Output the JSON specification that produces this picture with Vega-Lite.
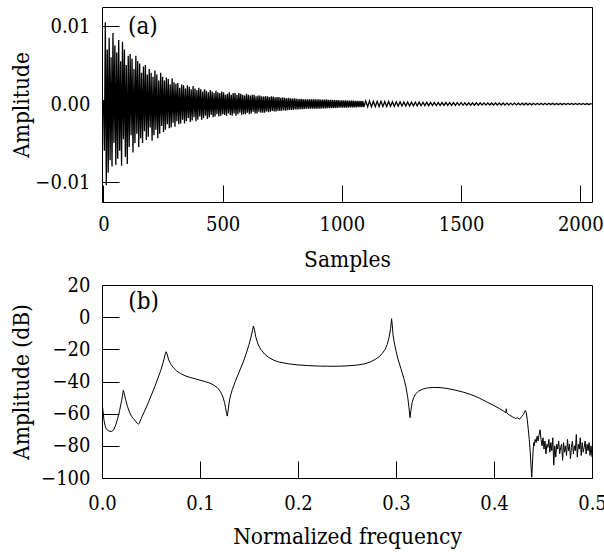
{
  "$schema": "https://vega.github.io/schema/vega-lite/v6.json",
  "padding": {"top": 6, "left": 10, "right": 0, "bottom": 5},
  "spacing": 2,
  "config": {
    "font": "DejaVu Serif Condensed, DejaVu Serif",
    "view": {"stroke": "black", "strokeWidth": 1},
    "axis": {
      "grid": false, "domain": false, "ticks": true, "tickColor": "black", "tickSize": -17, "tickWidth": 1,
      "labelFont": "DejaVu Serif Condensed, DejaVu Serif", "labelFontSize": 20, "labelColor": "black", "labelFlush": false, "labelOverlap": false,
      "titleFont": "DejaVu Serif Condensed, DejaVu Serif", "titleFontSize": 22.5, "titleFontWeight": "normal", "titleColor": "black"
    }
  },
  "datasets": {
    "sig": [
      {"n":0,"a":0.0005},{"n":4,"a":-0.006},{"n":8,"a":0.0105},{"n":12,"a":-0.0104},{"n":16,"a":0.007},{"n":20,"a":-0.0088},
      {"n":24,"a":0.0085},{"n":28,"a":-0.0072},{"n":32,"a":0.006},{"n":36,"a":-0.008},{"n":40,"a":0.0091},{"n":44,"a":-0.005},
      {"n":48,"a":0.0075},{"n":52,"a":-0.0078},{"n":56,"a":0.0066},{"n":60,"a":-0.007},{"n":64,"a":0.0082},{"n":68,"a":-0.006},
      {"n":72,"a":0.0055},{"n":76,"a":-0.0079},{"n":80,"a":0.008},{"n":84,"a":-0.0045},{"n":88,"a":0.007},{"n":92,"a":-0.0068},
      {"n":96,"a":0.005},{"n":100,"a":-0.0077},{"n":104,"a":0.0062},{"n":108,"a":-0.0055},{"n":112,"a":0.0064},{"n":116,"a":-0.004},
      {"n":120,"a":0.0058},{"n":124,"a":-0.0062},{"n":128,"a":0.0045},{"n":132,"a":-0.005},{"n":136,"a":0.0062},{"n":140,"a":-0.0038},
      {"n":144,"a":0.0055},{"n":148,"a":-0.0055},{"n":152,"a":0.0052},{"n":156,"a":-0.0044},{"n":160,"a":0.004},{"n":164,"a":-0.005},
      {"n":168,"a":0.0048},{"n":172,"a":-0.0035},{"n":176,"a":0.005},{"n":180,"a":-0.0046},{"n":184,"a":0.0038},{"n":188,"a":-0.0042},
      {"n":192,"a":0.0045},{"n":196,"a":-0.003},{"n":200,"a":0.004},{"n":204,"a":-0.0047},{"n":208,"a":0.0035},{"n":212,"a":-0.004},
      {"n":216,"a":0.0043},{"n":220,"a":-0.0033},{"n":224,"a":0.0038},{"n":228,"a":-0.0044},{"n":232,"a":0.003},{"n":236,"a":-0.0038},
      {"n":240,"a":0.004},{"n":244,"a":-0.0028},{"n":248,"a":0.0035},{"n":252,"a":-0.0036},{"n":256,"a":0.003},{"n":260,"a":-0.0033},
      {"n":264,"a":0.0034},{"n":268,"a":-0.0026},{"n":272,"a":0.0032},{"n":276,"a":-0.0031},{"n":280,"a":0.0025},{"n":284,"a":-0.003},
      {"n":288,"a":0.0033},{"n":292,"a":-0.0024},{"n":296,"a":0.0028},{"n":300,"a":-0.0029},{"n":304,"a":0.0026},{"n":308,"a":-0.0022},
      {"n":312,"a":0.0027},{"n":316,"a":-0.0026},{"n":320,"a":0.0021},{"n":324,"a":-0.0025},{"n":328,"a":0.0025},{"n":332,"a":-0.002},
      {"n":336,"a":0.0024},{"n":340,"a":-0.0025},{"n":344,"a":0.002},{"n":348,"a":-0.0022},{"n":352,"a":0.0024},{"n":356,"a":-0.0018},
      {"n":360,"a":0.0022},{"n":364,"a":-0.0023},{"n":368,"a":0.0019},{"n":372,"a":-0.0021},{"n":376,"a":0.0023},{"n":380,"a":-0.0017},
      {"n":384,"a":0.002},{"n":388,"a":-0.0022},{"n":392,"a":0.0018},{"n":396,"a":-0.002},{"n":400,"a":0.0021},{"n":404,"a":-0.0016},
      {"n":408,"a":0.0019},{"n":412,"a":-0.002},{"n":416,"a":0.0016},{"n":420,"a":-0.0018},{"n":424,"a":0.0019},{"n":428,"a":-0.0015},
      {"n":432,"a":0.0017},{"n":436,"a":-0.0019},{"n":440,"a":0.0015},{"n":444,"a":-0.0017},{"n":448,"a":0.0018},{"n":452,"a":-0.0014},
      {"n":456,"a":0.0016},{"n":460,"a":-0.0017},{"n":464,"a":0.0014},{"n":468,"a":-0.0016},{"n":472,"a":0.0017},{"n":476,"a":-0.0013},
      {"n":480,"a":0.0015},{"n":484,"a":-0.0016},{"n":488,"a":0.0014},{"n":492,"a":-0.0015},{"n":496,"a":0.0016},{"n":500,"a":-0.0013},
      {"n":504,"a":0.0015},{"n":508,"a":-0.0014},{"n":512,"a":0.0012},{"n":516,"a":-0.0015},{"n":520,"a":0.0013},{"n":524,"a":-0.0012},
      {"n":528,"a":0.0015},{"n":532,"a":-0.0014},{"n":536,"a":0.0012},{"n":540,"a":-0.0015},{"n":544,"a":0.0014},{"n":548,"a":-0.0012},
      {"n":552,"a":0.0014},{"n":556,"a":-0.0015},{"n":560,"a":0.0012},{"n":564,"a":-0.0013},{"n":568,"a":0.0014},{"n":572,"a":-0.0011},
      {"n":576,"a":0.0013},{"n":580,"a":-0.0014},{"n":584,"a":0.0012},{"n":588,"a":-0.0013},{"n":592,"a":0.0011},{"n":596,"a":-0.0013},
      {"n":600,"a":0.0013},{"n":604,"a":-0.0011},{"n":608,"a":0.0012},{"n":612,"a":-0.0013},{"n":616,"a":0.0011},{"n":620,"a":-0.0012},
      {"n":624,"a":0.0012},{"n":628,"a":-0.001},{"n":632,"a":0.0012},{"n":636,"a":-0.0012},{"n":640,"a":0.001},{"n":644,"a":-0.0012},
      {"n":648,"a":0.0011},{"n":652,"a":-0.001},{"n":656,"a":0.0011},{"n":660,"a":-0.0011},{"n":664,"a":0.001},{"n":668,"a":-0.0011},
      {"n":672,"a":0.00095},{"n":676,"a":-0.0011},{"n":680,"a":0.001},{"n":684,"a":-0.00095},{"n":688,"a":0.001},{"n":692,"a":-0.00105},
      {"n":696,"a":0.0009},{"n":700,"a":-0.001},{"n":704,"a":0.001},{"n":708,"a":-0.0009},{"n":712,"a":0.00095},{"n":716,"a":-0.00095},
      {"n":720,"a":0.00085},{"n":724,"a":-0.00095},{"n":728,"a":0.0009},{"n":732,"a":-0.00085},{"n":736,"a":0.0009},{"n":740,"a":-0.0009},
      {"n":744,"a":0.0008},{"n":748,"a":-0.00085},{"n":752,"a":0.00085},{"n":756,"a":-0.0008},{"n":760,"a":0.0008},{"n":764,"a":-0.00085},
      {"n":768,"a":0.00075},{"n":772,"a":-0.0008},{"n":776,"a":0.0008},{"n":780,"a":-0.00075},{"n":784,"a":0.00075},{"n":788,"a":-0.00075},
      {"n":792,"a":0.0007},{"n":796,"a":-0.00075},{"n":800,"a":0.00075},{"n":804,"a":-0.0007},{"n":808,"a":0.0007},{"n":812,"a":-0.0007},
      {"n":816,"a":0.00065},{"n":820,"a":-0.0007},{"n":824,"a":0.00068},{"n":828,"a":-0.00065},{"n":832,"a":0.00065},{"n":836,"a":-0.00065},
      {"n":840,"a":0.00062},{"n":844,"a":-0.00063},{"n":848,"a":0.00062},{"n":852,"a":-0.0006},{"n":856,"a":0.0006},{"n":860,"a":-0.0006},
      {"n":864,"a":0.00061},{"n":868,"a":-0.0006},{"n":872,"a":0.0006},{"n":876,"a":-0.0006},{"n":880,"a":0.0006},{"n":884,"a":-0.0006},
      {"n":888,"a":0.0006},{"n":892,"a":-0.0006},{"n":896,"a":0.0006},{"n":900,"a":-0.0006},{"n":904,"a":0.0006},{"n":908,"a":-0.00059},
      {"n":912,"a":0.00058},{"n":916,"a":-0.00058},{"n":920,"a":0.00057},{"n":924,"a":-0.00056},{"n":928,"a":0.00057},{"n":932,"a":-0.00055},
      {"n":936,"a":0.00056},{"n":940,"a":-0.00054},{"n":944,"a":0.00054},{"n":948,"a":-0.00054},{"n":952,"a":0.00053},{"n":956,"a":-0.00052},
      {"n":960,"a":0.00053},{"n":964,"a":-0.00051},{"n":968,"a":0.00051},{"n":972,"a":-0.00051},{"n":976,"a":0.0005},{"n":980,"a":-0.00049},
      {"n":984,"a":0.0005},{"n":988,"a":-0.00048},{"n":992,"a":0.00048},{"n":996,"a":-0.00048},{"n":1000,"a":0.00047},{"n":1004,"a":-0.00047},
      {"n":1008,"a":0.00046},{"n":1012,"a":-0.00046},{"n":1016,"a":0.00046},{"n":1020,"a":-0.00045},{"n":1024,"a":0.00045},{"n":1028,"a":-0.00044},
      {"n":1032,"a":0.00044},{"n":1036,"a":-0.00044},{"n":1040,"a":0.00043},{"n":1044,"a":-0.00043},{"n":1048,"a":0.00043},{"n":1052,"a":-0.00042},
      {"n":1056,"a":0.00042},{"n":1060,"a":-0.00042},{"n":1064,"a":0.00041},{"n":1068,"a":-0.00041},{"n":1072,"a":0.00041},{"n":1076,"a":-0.0004},
      {"n":1080,"a":0.0004},{"n":1084,"a":-0.0004},{"n":1088,"a":0.00039},{"n":1092,"a":-0.00039},
      {"n":1100,"a":0.0004},{"n":1108,"a":-0.00037},{"n":1116,"a":0.00038},{"n":1124,"a":-0.00035},
      {"n":1132,"a":0.00036},{"n":1140,"a":-0.00035},{"n":1148,"a":0.00034},{"n":1156,"a":-0.00032},{"n":1164,"a":0.00034},{"n":1172,"a":-0.00032},
      {"n":1180,"a":0.00031},{"n":1188,"a":-0.0003},{"n":1196,"a":0.00032},{"n":1204,"a":-0.00029},{"n":1212,"a":0.0003},{"n":1220,"a":-0.00028},
      {"n":1228,"a":0.00029},{"n":1236,"a":-0.00027},{"n":1244,"a":0.00028},{"n":1252,"a":-0.00026},{"n":1260,"a":0.00027},{"n":1268,"a":-0.00025},
      {"n":1276,"a":0.00026},{"n":1284,"a":-0.00025},{"n":1292,"a":0.00024},{"n":1300,"a":-0.00024},{"n":1308,"a":0.00025},{"n":1316,"a":-0.00023},
      {"n":1324,"a":0.00023},{"n":1332,"a":-0.00022},{"n":1340,"a":0.00023},{"n":1348,"a":-0.00021},{"n":1356,"a":0.00022},{"n":1364,"a":-0.00021},
      {"n":1372,"a":0.0002},{"n":1380,"a":-0.0002},{"n":1388,"a":0.00021},{"n":1396,"a":-0.00019},{"n":1404,"a":0.0002},{"n":1412,"a":-0.00019},
      {"n":1420,"a":0.00019},{"n":1428,"a":-0.00018},{"n":1436,"a":0.00019},{"n":1444,"a":-0.00018},{"n":1452,"a":0.00018},{"n":1460,"a":-0.00017},
      {"n":1468,"a":0.00018},{"n":1476,"a":-0.00017},{"n":1484,"a":0.00017},{"n":1492,"a":-0.00016},{"n":1500,"a":0.00017},{"n":1508,"a":-0.00016},
      {"n":1516,"a":0.00016},{"n":1524,"a":-0.00015},{"n":1532,"a":0.00016},{"n":1540,"a":-0.00015},{"n":1548,"a":0.00015},{"n":1556,"a":-0.00015},
      {"n":1564,"a":0.00015},{"n":1572,"a":-0.00014},{"n":1580,"a":0.00015},{"n":1588,"a":-0.00014},{"n":1596,"a":0.00014},{"n":1604,"a":-0.00014},
      {"n":1612,"a":0.00014},{"n":1620,"a":-0.00013},{"n":1628,"a":0.00014},{"n":1636,"a":-0.00013},{"n":1644,"a":0.00013},{"n":1652,"a":-0.00013},
      {"n":1660,"a":0.00013},{"n":1668,"a":-0.00012},{"n":1676,"a":0.00013},{"n":1684,"a":-0.00012},{"n":1692,"a":0.00012},{"n":1700,"a":-0.00012},
      {"n":1708,"a":0.00012},{"n":1716,"a":-0.00011},{"n":1724,"a":0.00012},{"n":1732,"a":-0.00011},{"n":1740,"a":0.00011},{"n":1748,"a":-0.00011},
      {"n":1756,"a":0.00011},{"n":1764,"a":-0.0001},{"n":1772,"a":0.00011},{"n":1780,"a":-0.0001},{"n":1788,"a":0.0001},{"n":1796,"a":-0.0001},
      {"n":1804,"a":0.0001},{"n":1812,"a":-0.00009},{"n":1820,"a":0.0001},{"n":1828,"a":-0.00009},{"n":1836,"a":0.00009},{"n":1844,"a":-0.00009},
      {"n":1852,"a":0.00009},{"n":1860,"a":-0.00009},{"n":1868,"a":0.00009},{"n":1876,"a":-0.00008},{"n":1884,"a":0.00009},{"n":1892,"a":-0.00008},
      {"n":1900,"a":0.00008},{"n":1908,"a":-0.00008},{"n":1916,"a":0.00008},{"n":1924,"a":-0.00008},{"n":1932,"a":0.00008},{"n":1940,"a":-0.00007},
      {"n":1948,"a":0.00008},{"n":1956,"a":-0.00007},{"n":1964,"a":0.00007},{"n":1972,"a":-0.00007},{"n":1980,"a":0.00007},{"n":1988,"a":-0.00007},
      {"n":1996,"a":0.00007},{"n":2004,"a":-0.00006},{"n":2012,"a":0.00007},{"n":2020,"a":-0.00006},{"n":2028,"a":0.00006},{"n":2036,"a":-0.00006},
      {"n":2044,"a":0.00006},{"n":2047,"a":-0.00005}
    ],
    "fr": [
      {"f":0.000,"db":-53},{"f":0.001,"db":-58},{"f":0.002,"db":-64},{"f":0.003,"db":-67},{"f":0.004,"db":-69},{"f":0.006,"db":-70.5},
      {"f":0.008,"db":-71},{"f":0.010,"db":-71},{"f":0.012,"db":-70},{"f":0.014,"db":-67},{"f":0.016,"db":-63},{"f":0.018,"db":-58},
      {"f":0.020,"db":-52},{"f":0.021,"db":-48.5},{"f":0.0218,"db":-45.5},{"f":0.0225,"db":-47},{"f":0.024,"db":-51},{"f":0.026,"db":-55.5},
      {"f":0.028,"db":-59},{"f":0.030,"db":-61.5},{"f":0.032,"db":-63},{"f":0.034,"db":-64.5},{"f":0.036,"db":-66},{"f":0.037,"db":-66.5},
      {"f":0.038,"db":-66},{"f":0.040,"db":-63},{"f":0.043,"db":-59},{"f":0.046,"db":-55},{"f":0.050,"db":-49},{"f":0.054,"db":-43},
      {"f":0.057,"db":-38},{"f":0.060,"db":-33},{"f":0.062,"db":-29},{"f":0.0635,"db":-25.5},{"f":0.0645,"db":-23},{"f":0.0655,"db":-21.5},
      {"f":0.0665,"db":-23},{"f":0.068,"db":-26.5},{"f":0.070,"db":-29},{"f":0.073,"db":-31.5},{"f":0.076,"db":-33.3},{"f":0.080,"db":-35},
      {"f":0.085,"db":-36.5},{"f":0.090,"db":-37.5},{"f":0.095,"db":-38.3},{"f":0.100,"db":-39.2},{"f":0.105,"db":-40},{"f":0.110,"db":-41},
      {"f":0.114,"db":-42.2},{"f":0.118,"db":-44},{"f":0.121,"db":-46.5},{"f":0.123,"db":-49},{"f":0.125,"db":-53},{"f":0.126,"db":-56},
      {"f":0.127,"db":-59.5},{"f":0.1278,"db":-61.5},{"f":0.1285,"db":-59},{"f":0.1295,"db":-54},{"f":0.131,"db":-49},{"f":0.133,"db":-45},
      {"f":0.136,"db":-40},{"f":0.139,"db":-35.5},{"f":0.142,"db":-31},{"f":0.145,"db":-26.5},{"f":0.148,"db":-21},{"f":0.150,"db":-17},
      {"f":0.152,"db":-12.5},{"f":0.1535,"db":-8.5},{"f":0.1545,"db":-5.5},{"f":0.1555,"db":-7.5},{"f":0.157,"db":-12.5},{"f":0.159,"db":-16.5},
      {"f":0.162,"db":-20},{"f":0.166,"db":-23},{"f":0.170,"db":-25},{"f":0.175,"db":-26.7},{"f":0.180,"db":-27.8},{"f":0.190,"db":-29},
      {"f":0.200,"db":-29.7},{"f":0.210,"db":-30.1},{"f":0.220,"db":-30.4},{"f":0.230,"db":-30.5},{"f":0.240,"db":-30.5},{"f":0.250,"db":-30.3},
      {"f":0.260,"db":-29.8},{"f":0.268,"db":-29},{"f":0.274,"db":-27.8},{"f":0.279,"db":-26.2},{"f":0.283,"db":-24.5},{"f":0.286,"db":-22.5},
      {"f":0.289,"db":-20},{"f":0.291,"db":-17},{"f":0.293,"db":-12.5},{"f":0.2945,"db":-7},{"f":0.2955,"db":-1},{"f":0.2962,"db":-5},
      {"f":0.297,"db":-11},{"f":0.298,"db":-15},{"f":0.300,"db":-21},{"f":0.302,"db":-26},{"f":0.305,"db":-32},{"f":0.308,"db":-38},
      {"f":0.310,"db":-43},{"f":0.312,"db":-50},{"f":0.3132,"db":-56},{"f":0.3143,"db":-62.5},{"f":0.3152,"db":-58},{"f":0.3165,"db":-53},
      {"f":0.318,"db":-50},{"f":0.320,"db":-47.8},{"f":0.323,"db":-46},{"f":0.327,"db":-44.8},{"f":0.332,"db":-44},{"f":0.338,"db":-43.7},
      {"f":0.345,"db":-43.8},{"f":0.352,"db":-44.3},{"f":0.360,"db":-45.3},{"f":0.368,"db":-46.5},{"f":0.376,"db":-48},{"f":0.384,"db":-50},
      {"f":0.392,"db":-52.5},{"f":0.400,"db":-55},{"f":0.406,"db":-57},{"f":0.410,"db":-58.5},{"f":0.412,"db":-59.5},{"f":0.4125,"db":-57},
      {"f":0.413,"db":-59.5},{"f":0.416,"db":-61},{"f":0.419,"db":-62},{"f":0.422,"db":-63},{"f":0.424,"db":-62.5},{"f":0.426,"db":-63.5},
      {"f":0.428,"db":-62},{"f":0.430,"db":-60.5},{"f":0.432,"db":-58},{"f":0.433,"db":-59.5},{"f":0.434,"db":-64},{"f":0.435,"db":-70},
      {"f":0.436,"db":-76},{"f":0.437,"db":-84},{"f":0.4377,"db":-92},{"f":0.4385,"db":-99.5},{"f":0.4392,"db":-92},{"f":0.4398,"db":-84},
      {"f":0.4405,"db":-78},{"f":0.441,"db":-80},{"f":0.442,"db":-76},{"f":0.443,"db":-78},{"f":0.444,"db":-74},{"f":0.445,"db":-77},
      {"f":0.446,"db":-73},{"f":0.447,"db":-70},{"f":0.448,"db":-76},{"f":0.449,"db":-80},{"f":0.450,"db":-75},{"f":0.451,"db":-82},
      {"f":0.452,"db":-77},{"f":0.453,"db":-85},{"f":0.454,"db":-79},{"f":0.455,"db":-81},{"f":0.456,"db":-76},{"f":0.457,"db":-84},
      {"f":0.458,"db":-78},{"f":0.459,"db":-83},{"f":0.460,"db":-75},{"f":0.461,"db":-92},{"f":0.462,"db":-80},{"f":0.463,"db":-87},
      {"f":0.464,"db":-79},{"f":0.465,"db":-82},{"f":0.466,"db":-77},{"f":0.467,"db":-85},{"f":0.468,"db":-81},{"f":0.469,"db":-79},
      {"f":0.470,"db":-89},{"f":0.471,"db":-78},{"f":0.472,"db":-84},{"f":0.473,"db":-80},{"f":0.474,"db":-86},{"f":0.475,"db":-76},
      {"f":0.476,"db":-83},{"f":0.477,"db":-79},{"f":0.478,"db":-88},{"f":0.479,"db":-81},{"f":0.480,"db":-77},{"f":0.481,"db":-85},
      {"f":0.482,"db":-80},{"f":0.483,"db":-83},{"f":0.484,"db":-73},{"f":0.485,"db":-87},{"f":0.486,"db":-79},{"f":0.487,"db":-82},
      {"f":0.488,"db":-75},{"f":0.489,"db":-86},{"f":0.490,"db":-78},{"f":0.491,"db":-84},{"f":0.492,"db":-81},{"f":0.493,"db":-77},
      {"f":0.494,"db":-85},{"f":0.495,"db":-79},{"f":0.496,"db":-83},{"f":0.497,"db":-78},{"f":0.498,"db":-86},{"f":0.499,"db":-80},
      {"f":0.500,"db":-87}
    ]
  },
  "vconcat": [
    {
      "width": 490,
      "height": 195,
      "encoding": {
        "x": {"field": "n", "type": "quantitative",
          "scale": {"domain": [-6, 2049], "nice": false, "zero": false},
          "axis": {"title": "Samples", "values": [0, 500, 1000, 1500, 2000], "format": "d", "labelPadding": 29.6, "titlePadding": 14, "labelOverlap": false}},
        "y": {"field": "a", "type": "quantitative",
          "scale": {"domain": [-0.01256, 0.01244], "nice": false, "zero": false},
          "axis": {"title": "Amplitude", "values": [-0.01, 0, 0.01], "format": ".2f", "labelPadding": 29, "titlePadding": 1, "labelOverlap": false}}
      },
      "layer": [
        {
          "data": {"name": "sig"},
          "mark": {"type": "line", "color": "black", "strokeWidth": 1.3, "clip": true}
        },
        {
          "data": {"values": [{"n": 103, "a": 0.0099, "t": "(a)"}]},
          "mark": {"type": "text", "align": "left", "baseline": "middle", "fontSize": 24, "color": "black"},
          "encoding": {"text": {"field": "t"}}
        }
      ]
    },
    {
      "width": 490,
      "height": 193,
      "encoding": {
        "x": {"field": "f", "type": "quantitative",
          "scale": {"domain": [0, 0.5], "nice": false, "zero": false},
          "axis": {"title": "Normalized frequency", "values": [0, 0.1, 0.2, 0.3, 0.4, 0.5], "format": ".1f", "labelPadding": 32.4, "titlePadding": 12.5, "labelOverlap": false}},
        "y": {"field": "db", "type": "quantitative",
          "scale": {"domain": [-100, 20], "nice": false, "zero": false},
          "axis": {"title": "Amplitude (dB)", "values": [-100, -80, -60, -40, -20, 0, 20], "format": "d", "labelPadding": 29, "titlePadding": 7, "labelOverlap": false}}
      },
      "layer": [
        {
          "data": {"name": "fr"},
          "mark": {"type": "line", "color": "black", "strokeWidth": 1, "clip": true}
        },
        {
          "data": {"values": [{"f": 0.0268, "db": 9.7, "t": "(b)"}]},
          "mark": {"type": "text", "align": "left", "baseline": "middle", "fontSize": 24, "color": "black"},
          "encoding": {"text": {"field": "t"}}
        }
      ]
    }
  ]
}
